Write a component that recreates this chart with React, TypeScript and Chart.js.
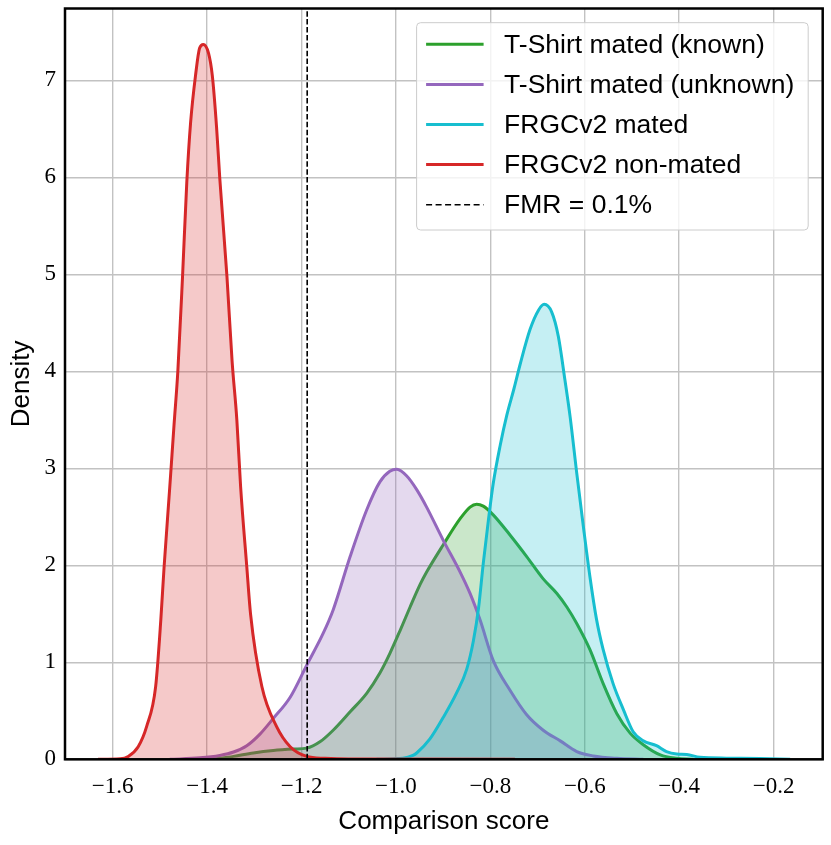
import React, { useEffect, useRef } from 'react';
import { Chart, registerables } from 'chart.js';

Chart.register(...registerables);

// ---- Data ----
const KNOWN_X = [-1.387, -1.344, -1.302, -1.26, -1.217, -1.189, -1.161, -1.133, -1.097, -1.062, -1.034, -1.013, -0.991, -0.97, -0.949, -0.935, -0.9, -0.864, -0.843, -0.829, -0.815, -0.794, -0.758, -0.723, -0.688, -0.659, -0.638, -0.617, -0.589, -0.561, -0.532, -0.504, -0.476, -0.44, -0.405, -0.37];
const KNOWN_Y = [0, 0.03, 0.065, 0.09, 0.105, 0.115, 0.18, 0.3, 0.49, 0.68, 0.89, 1.09, 1.33, 1.57, 1.8, 1.93, 2.21, 2.48, 2.6, 2.63, 2.61, 2.52, 2.31, 2.09, 1.86, 1.71, 1.57, 1.4, 1.13, 0.78, 0.47, 0.27, 0.15, 0.045, 0.01, 0];

const UNKNOWN_X = [-1.479, -1.415, -1.373, -1.344, -1.316, -1.288, -1.26, -1.224, -1.189, -1.154, -1.133, -1.097, -1.062, -1.034, -1.013, -0.998, -0.977, -0.956, -0.935, -0.9, -0.864, -0.843, -0.822, -0.794, -0.758, -0.723, -0.688, -0.652, -0.617, -0.582, -0.532, -0.476];
const UNKNOWN_Y = [0, 0.015, 0.04, 0.075, 0.14, 0.26, 0.42, 0.64, 0.97, 1.3, 1.54, 2.09, 2.57, 2.86, 2.97, 2.99, 2.92, 2.78, 2.6, 2.26, 1.93, 1.71, 1.44, 1.02, 0.71, 0.46, 0.3, 0.19, 0.08, 0.035, 0.01, 0];

const FRGC_MATED_X = [-1.041, -0.985, -0.964, -0.956, -0.928, -0.9, -0.871, -0.85, -0.836, -0.825, -0.815, -0.804, -0.794, -0.779, -0.765, -0.75, -0.737, -0.716, -0.698, -0.686, -0.67, -0.656, -0.642, -0.631, -0.617, -0.603, -0.589, -0.575, -0.561, -0.54, -0.518, -0.497, -0.476, -0.448, -0.427, -0.405, -0.384, -0.356, -0.3, -0.229, -0.165];
const FRGC_MATED_Y = [0, 0.01, 0.04, 0.065, 0.21, 0.43, 0.69, 0.93, 1.22, 1.56, 2.02, 2.47, 2.84, 3.24, 3.55, 3.82, 4.07, 4.43, 4.63, 4.69, 4.61, 4.36, 3.91, 3.53, 2.95, 2.4, 1.88, 1.44, 1.13, 0.78, 0.51, 0.28, 0.19, 0.14, 0.08, 0.055, 0.05, 0.02, 0.012, 0.008, 0];

const FRGC_NONMATED_X = [-1.631, -1.584, -1.567, -1.546, -1.528, -1.509, -1.498, -1.491, -1.479, -1.47, -1.462, -1.452, -1.443, -1.435, -1.424, -1.416, -1.408, -1.397, -1.389, -1.38, -1.373, -1.358, -1.347, -1.337, -1.329, -1.316, -1.308, -1.284, -1.253, -1.224, -1.189, -1.15, -1.1, -0.748];
const FRGC_NONMATED_Y = [0, 0.005, 0.03, 0.13, 0.34, 0.75, 1.44, 1.99, 2.81, 3.45, 4.0, 4.98, 5.95, 6.56, 7.07, 7.33, 7.37, 7.28, 7.05, 6.52, 5.98, 4.98, 4.1, 3.5, 2.81, 1.99, 1.5, 0.75, 0.34, 0.13, 0.03, 0.01, 0.002, 0];

const FMR_THRESHOLD = -1.188;

const X_TICKS = [-1.6, -1.4, -1.2, -1.0, -0.8, -0.6, -0.4, -0.2];
const Y_TICKS = [0, 1, 2, 3, 4, 5, 6, 7];
const X_MIN = -1.701;
const X_MAX = -0.096;
const Y_MIN = 0;
const Y_MAX = 7.74;

const SERIES_LABELS = [
  'T-Shirt mated (known)',
  'T-Shirt mated (unknown)',
  'FRGCv2 mated',
  'FRGCv2 non-mated',
];
const FMR_LABEL = 'FMR = 0.1%';
const X_TITLE = 'Comparison score';
const Y_TITLE = 'Density';

const COLORS = ['#2ca02c', '#9467bd', '#17becf', '#d62728'];
const FILLS = [
  'rgba(44,160,44,0.25)',
  'rgba(148,103,189,0.25)',
  'rgba(23,190,207,0.25)',
  'rgba(214,39,40,0.25)',
];

const SANS = '"Liberation Sans", Arial, Helvetica, sans-serif';
const SERIF = '"Liberation Serif", "Times New Roman", serif';

function toPoints(xs: number[], ys: number[]) {
  return xs.map((x, i) => ({ x, y: ys[i] }));
}

function fmtX(v: number) {
  const s = Math.abs(v).toFixed(1);
  return v < 0 ? '\u2212' + s : s;
}

const framePlugin = {
  id: 'frame',
  afterDatasetsDraw(chart: any) {
    const { ctx, chartArea } = chart;
    ctx.save();
    ctx.strokeStyle = '#000';
    ctx.lineWidth = 2.5;
    ctx.strokeRect(chartArea.left, chartArea.top, chartArea.right - chartArea.left, chartArea.bottom - chartArea.top);
    ctx.restore();
  },
};

const legendPlugin = {
  id: 'boxLegend',
  afterDraw(chart: any) {
    const { ctx, chartArea } = chart;
    const right = chartArea.right - 14.5;
    const top = chartArea.top + 14.2;
    const w = 391.6;
    const h = 207.3;
    const left = right - w;
    ctx.save();
    const r = 4;
    ctx.beginPath();
    ctx.moveTo(left + r, top);
    ctx.lineTo(left + w - r, top);
    ctx.quadraticCurveTo(left + w, top, left + w, top + r);
    ctx.lineTo(left + w, top + h - r);
    ctx.quadraticCurveTo(left + w, top + h, left + w - r, top + h);
    ctx.lineTo(left + r, top + h);
    ctx.quadraticCurveTo(left, top + h, left, top + h - r);
    ctx.lineTo(left, top + r);
    ctx.quadraticCurveTo(left, top, left + r, top);
    ctx.closePath();
    ctx.fillStyle = 'rgba(255,255,255,0.8)';
    ctx.fill();
    ctx.strokeStyle = '#cccccc';
    ctx.lineWidth = 1;
    ctx.stroke();

    ctx.font = `26.5px ${SANS}`;
    ctx.textBaseline = 'middle';
    ctx.textAlign = 'left';
    chart.data.datasets.forEach((d: any, i: number) => {
      const cy = top + 21.6 + i * 40.1;
      ctx.beginPath();
      ctx.setLineDash(d.borderDash ? [6, 3.5] : []);
      ctx.strokeStyle = d.borderColor;
      ctx.lineWidth = d.borderDash ? 1.6 : 3;
      ctx.moveTo(left + 9.5, cy);
      ctx.lineTo(left + 67, cy);
      ctx.stroke();
      ctx.setLineDash([]);
      ctx.fillStyle = '#000';
      ctx.fillText(d.label, left + 87.5, cy + 1);
    });
    ctx.restore();
  },
};

export default function App() {
  const canvasRef = useRef<HTMLCanvasElement | null>(null);

  useEffect(() => {
    document.body.style.margin = '0';
    const canvas = canvasRef.current;
    if (!canvas) return;

    const seriesX = [KNOWN_X, UNKNOWN_X, FRGC_MATED_X, FRGC_NONMATED_X];
    const seriesY = [KNOWN_Y, UNKNOWN_Y, FRGC_MATED_Y, FRGC_NONMATED_Y];

    const datasets: any[] = SERIES_LABELS.map((label, i) => ({
      label,
      data: toPoints(seriesX[i], seriesY[i]),
      borderColor: COLORS[i],
      backgroundColor: FILLS[i],
      borderWidth: 3,
      fill: 'origin',
      pointRadius: 0,
      pointHoverRadius: 0,
      cubicInterpolationMode: 'monotone',
      order: 4 - i,
    }));
    datasets.push({
      label: FMR_LABEL,
      data: [
        { x: FMR_THRESHOLD, y: Y_MIN },
        { x: FMR_THRESHOLD, y: Y_MAX },
      ],
      borderColor: '#000',
      borderWidth: 1.6,
      borderDash: [5.5, 2.4],
      fill: false,
      pointRadius: 0,
      order: 0,
    });

    const chart = new Chart(canvas, {
      type: 'line',
      data: { datasets },
      options: {
        animation: false,
        responsive: true,
        maintainAspectRatio: false,
        events: [],
        layout: { padding: { top: 8.5, right: 8.3, left: 0, bottom: 0 } },
        plugins: {
          legend: { display: false },
          tooltip: { enabled: false },
        },
        scales: {
          x: {
            type: 'linear',
            min: X_MIN,
            max: X_MAX,
            afterBuildTicks: (scale: any) => {
              scale.ticks = X_TICKS.map((v) => ({ value: v }));
            },
            afterFit: (scale: any) => {
              scale.height = 85.7;
              scale.paddingLeft = 0;
              scale.paddingRight = 0;
            },
            ticks: {
              callback: (v: any) => fmtX(Number(v)),
              font: { family: SERIF, size: 23 },
              color: '#000',
              padding: 14,
              maxRotation: 0,
              autoSkip: false,
            },
            grid: { color: '#c2c2c2', lineWidth: 1.4, drawTicks: false },
            border: { display: false },
            title: {
              display: true,
              text: X_TITLE,
              font: { family: SANS, size: 26 },
              color: '#000',
              padding: { top: 0, bottom: 8 },
            },
          },
          y: {
            type: 'linear',
            min: Y_MIN,
            max: Y_MAX,
            afterBuildTicks: (scale: any) => {
              scale.ticks = Y_TICKS.map((v) => ({ value: v }));
            },
            afterFit: (scale: any) => {
              scale.width = 65;
              scale.paddingTop = 0;
              scale.paddingBottom = 0;
            },
            ticks: {
              callback: (v: any) => String(v),
              font: { family: SERIF, size: 23 },
              color: '#000',
              padding: 9,
              autoSkip: false,
            },
            grid: { color: '#c2c2c2', lineWidth: 1.4, drawTicks: false },
            border: { display: false },
            title: {
              display: true,
              text: Y_TITLE,
              font: { family: SANS, size: 26 },
              color: '#000',
              padding: { top: 6, bottom: 0 },
            },
          },
        },
      },
      plugins: [framePlugin, legendPlugin],
    } as any);

    return () => {
      chart.destroy();
    };
  }, []);

  return (
    <div style={{ position: 'relative', width: 831, height: 845 }}>
      <canvas ref={canvasRef} />
    </div>
  );
}
